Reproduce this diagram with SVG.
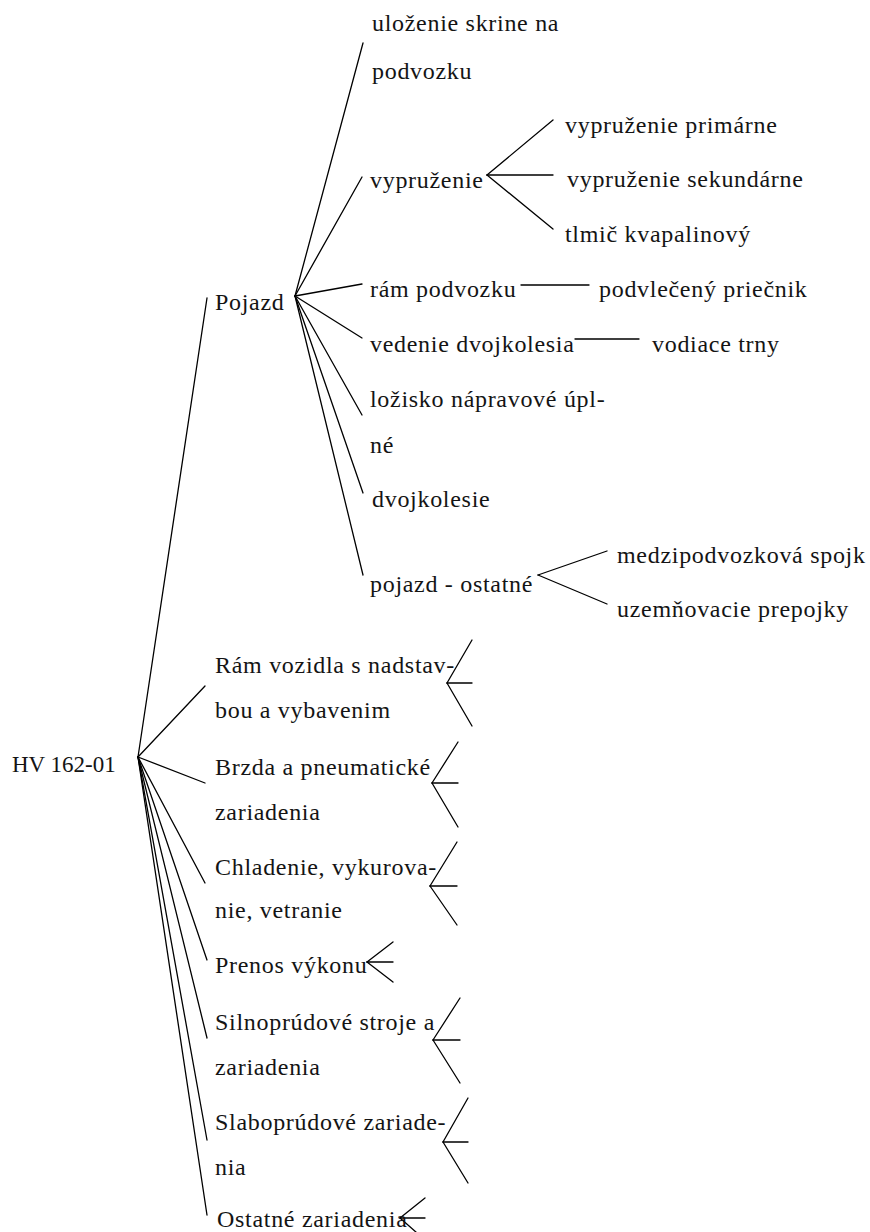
<svg xmlns="http://www.w3.org/2000/svg" width="870" height="1232" viewBox="0 0 870 1232">
<style>
text{font-family:'Liberation Serif',Tinos,'Times New Roman','DejaVu Serif',serif;font-size:24px;letter-spacing:0.7px;fill:#141414}
.root{font-size:23px;letter-spacing:0}
.c line{stroke:#000;stroke-width:1.3;stroke-linecap:round}
</style>
<rect width="870" height="1232" fill="#fff"/>
<g class="c" id="connectors">
<line x1="138" y1="757" x2="207" y2="298"/>
<line x1="138" y1="757" x2="205" y2="686"/>
<line x1="138" y1="757" x2="205" y2="783"/>
<line x1="138" y1="757" x2="205" y2="883"/>
<line x1="138" y1="757" x2="207" y2="960"/>
<line x1="138" y1="757" x2="207" y2="1038"/>
<line x1="138" y1="757" x2="207" y2="1140"/>
<line x1="138" y1="757" x2="207" y2="1215"/>
<line x1="295" y1="296" x2="363" y2="43"/>
<line x1="295" y1="296" x2="362" y2="177"/>
<line x1="295" y1="296" x2="362" y2="284"/>
<line x1="295" y1="296" x2="362" y2="338"/>
<line x1="295" y1="296" x2="362" y2="415"/>
<line x1="295" y1="296" x2="363" y2="493"/>
<line x1="295" y1="296" x2="363" y2="575"/>
<line x1="487" y1="175" x2="553" y2="120"/>
<line x1="487" y1="175" x2="553" y2="175"/>
<line x1="487" y1="175" x2="553" y2="229"/>
<line x1="521" y1="285" x2="589" y2="285"/>
<line x1="575" y1="339" x2="639" y2="339"/>
<line x1="538" y1="575" x2="607" y2="551"/>
<line x1="538" y1="575" x2="607" y2="604"/>
<line x1="447" y1="683" x2="472" y2="640"/>
<line x1="447" y1="683" x2="472" y2="683"/>
<line x1="447" y1="683" x2="472" y2="726"/>
<line x1="432" y1="783" x2="458" y2="742"/>
<line x1="432" y1="783" x2="458" y2="783"/>
<line x1="432" y1="783" x2="458" y2="827"/>
<line x1="430" y1="886" x2="457" y2="842"/>
<line x1="430" y1="886" x2="457" y2="886"/>
<line x1="430" y1="886" x2="457" y2="925"/>
<line x1="367" y1="962" x2="393" y2="942"/>
<line x1="367" y1="962" x2="393" y2="962"/>
<line x1="367" y1="962" x2="393" y2="982"/>
<line x1="433" y1="1040" x2="460" y2="998"/>
<line x1="433" y1="1040" x2="460" y2="1040"/>
<line x1="433" y1="1040" x2="460" y2="1083"/>
<line x1="443" y1="1142" x2="468" y2="1098"/>
<line x1="443" y1="1142" x2="468" y2="1142"/>
<line x1="443" y1="1142" x2="468" y2="1183"/>
<line x1="400" y1="1218" x2="425" y2="1198"/>
<line x1="400" y1="1218" x2="425" y2="1218"/>
<line x1="400" y1="1218" x2="425" y2="1240"/>
</g>
<g id="n-root"><text class="root" x="12" y="772">HV 162-01</text></g>
<g id="n-pojazd"><text x="215" y="310">Pojazd</text></g>
<g id="n-ulozenie"><text x="372" y="31">uloženie skrine na</text><text x="372" y="79">podvozku</text></g>
<g id="n-vypruzenie"><text x="370" y="188">vypruženie</text></g>
<g id="n-primarne"><text x="565" y="133">vypruženie primárne</text></g>
<g id="n-sekundarne"><text x="567" y="187">vypruženie sekundárne</text></g>
<g id="n-tlmic"><text x="565" y="242">tlmič kvapalinový</text></g>
<g id="n-ram"><text x="370" y="297">rám podvozku</text></g>
<g id="n-priecnik"><text x="599" y="297">podvlečený priečnik</text></g>
<g id="n-vedenie"><text x="370" y="352">vedenie dvojkolesia</text></g>
<g id="n-trny"><text x="652" y="352">vodiace trny</text></g>
<g id="n-lozisko"><text x="370" y="407">ložisko nápravové úpl-</text><text x="370" y="453">né</text></g>
<g id="n-dvojkolesie"><text x="372" y="507">dvojkolesie</text></g>
<g id="n-pojazd-ostatne"><text x="370" y="592">pojazd - ostatné</text></g>
<g id="n-spojk"><text x="617" y="563">medzipodvozková spojk</text></g>
<g id="n-prepojky"><text x="617" y="617">uzemňovacie prepojky</text></g>
<g id="n-ram-vozidla"><text x="215" y="673">Rám vozidla s nadstav-</text><text x="215" y="718">bou a vybavenim</text></g>
<g id="n-brzda"><text x="215" y="775">Brzda a pneumatické</text><text x="215" y="820">zariadenia</text></g>
<g id="n-chladenie"><text x="215" y="875">Chladenie, vykurova-</text><text x="215" y="918">nie, vetranie</text></g>
<g id="n-prenos"><text x="215" y="973">Prenos výkonu</text></g>
<g id="n-silno"><text x="215" y="1030">Silnoprúdové stroje a</text><text x="215" y="1075">zariadenia</text></g>
<g id="n-slabo"><text x="215" y="1130">Slaboprúdové zariade-</text><text x="215" y="1175">nia</text></g>
<g id="n-ostatne"><text x="217" y="1227">Ostatné zariadenia</text></g>
</svg>
